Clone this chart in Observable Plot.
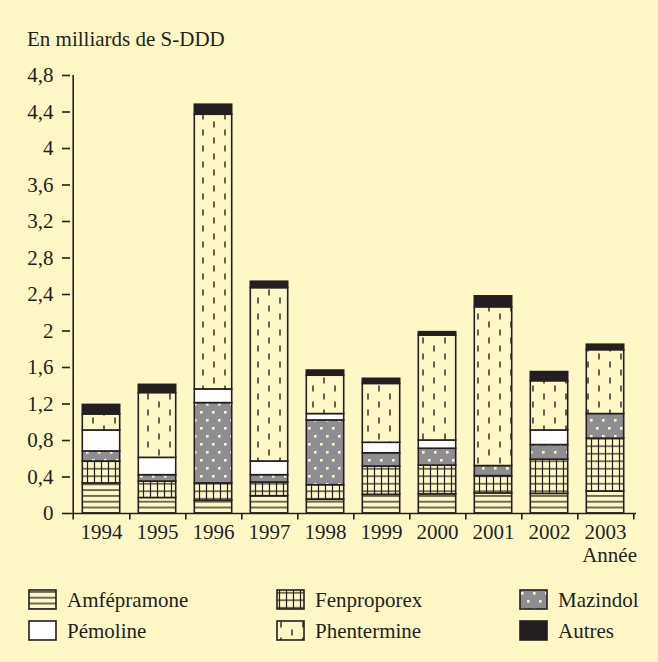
<!DOCTYPE html>
<html><head><meta charset="utf-8">
<script src="https://cdn.jsdelivr.net/npm/d3@7"></script>
<script src="https://cdn.jsdelivr.net/npm/@observablehq/plot@0.6"></script>
<style>
html,body{margin:0;padding:0;background:#fff8c6;}
#wrap{position:relative;width:658px;height:662px;overflow:hidden;font-family:"Liberation Serif","Times New Roman",serif;color:#231f20;background:#fff8c6;}
#title{position:absolute;left:27px;top:29px;font-size:21px;line-height:21px;white-space:nowrap;}
#xlabel{position:absolute;right:21px;top:545px;font-size:21px;line-height:21px;}
#chart{position:absolute;left:0;top:0;}
.leg{position:absolute;font-size:21px;line-height:21px;white-space:nowrap;}
.sw{position:absolute;}
#chart svg g[aria-label="y-axis tick"] path{stroke-width:1.6;}
</style></head><body>
<div id="wrap">
  <div id="chart"></div>
  <div id="title">En milliards de S-DDD</div>
  <div id="xlabel">Année</div>
  <div id="legend"></div>
</div>
<script>
const years = ["1994","1995","1996","1997","1998","1999","2000","2001","2002","2003"];
const seriesNames = ["Amfépramone","Fenproporex","Mazindol","Pémoline","Phentermine","Autres"];
const amfepramone = [0.33,0.17,0.14,0.19,0.15,0.205,0.21,0.22,0.215,0.24];
const fenproporex = [0.24,0.18,0.19,0.15,0.16,0.31,0.315,0.19,0.375,0.58];
const mazindol    = [0.11,0.07,0.88,0.08,0.71,0.145,0.185,0.11,0.16,0.27];
const pemoline    = [0.23,0.19,0.15,0.15,0.07,0.115,0.09,0,0.16,0];
const phentermine = [0.175,0.71,3.01,1.90,0.42,0.645,1.15,1.74,0.54,0.70];
const autres      = [0.105,0.09,0.11,0.07,0.057,0.056,0.037,0.12,0.10,0.06];
const yTicks = [0,0.4,0.8,1.2,1.6,2,2.4,2.8,3.2,3.6,4,4.4,4.8];

const seriesValues = [amfepramone, fenproporex, mazindol, pemoline, phentermine, autres];
const patternIds = ["p-amf","p-fen","p-maz","p-pem","p-phe","p-aut"];
const data = [];
years.forEach((yr, i) => {
  seriesNames.forEach((s, j) => {
    data.push({year: yr, serie: s, value: seriesValues[j][i]});
  });
});

const W = 658, H = 570;
const mL = 70, mR = 22, mT = 75, mB = 57;
const step = (W - mL - mR) / years.length;
const ink = "#231f20";

const plot = Plot.plot({
  width: W, height: H,
  marginLeft: mL, marginRight: mR, marginTop: mT, marginBottom: mB,
  style: {background: "transparent", fontFamily: "'Liberation Serif','Times New Roman',serif", fontSize: "21px", color: ink, overflow: "visible"},
  x: {domain: years, padding: 0, tickSize: 0, tickPadding: 11, label: null},
  y: {domain: [0, 4.8], ticks: yTicks, tickFormat: d => String(d).replace(".", ","), tickSize: 8, tickPadding: 9, label: null},
  color: {domain: seriesNames, range: patternIds.map(id => `url(#${id})`)},
  marks: [
    Plot.barY(data.filter(d => d.value > 0), {x: "year", y: "value", fill: "serie", stroke: ink, strokeWidth: 1.6, insetLeft: 9.3, insetRight: 9.3}),
    Plot.ruleY([0], {stroke: ink, strokeWidth: 1.6}),
    Plot.ruleX(years.slice(0, 1), {x: d => d, dx: -step / 2, y1: 0, y2: 4.8, stroke: ink, strokeWidth: 1.6}),
    Plot.ruleX(years.slice(0, 1), {x: d => d, dx: -step / 2, y1: 0, y2: -0.07, stroke: ink, strokeWidth: 1.6}),
    Plot.ruleX(years, {x: d => d, dx: step / 2, y1: 0, y2: -0.07, stroke: ink, strokeWidth: 1.6})
  ]
});

// pattern definitions
const defs = d3.select(plot).insert("defs", ":first-child");
const bg = "#fff8c6";
// Amfépramone: horizontal lines
let p = defs.append("pattern").attr("id", "p-amf").attr("patternUnits", "userSpaceOnUse").attr("width", 8).attr("height", 5.8);
p.append("rect").attr("width", 8).attr("height", 5.8).attr("fill", bg);
p.append("line").attr("x1", 0).attr("x2", 8).attr("y1", 2.9).attr("y2", 2.9).attr("stroke", ink).attr("stroke-width", 1.3);
// Fenproporex: grid
p = defs.append("pattern").attr("id", "p-fen").attr("patternUnits", "userSpaceOnUse").attr("width", 7).attr("height", 7.5);
p.append("rect").attr("width", 7).attr("height", 7.5).attr("fill", bg);
p.append("line").attr("x1", 3.5).attr("x2", 3.5).attr("y1", 0).attr("y2", 7.5).attr("stroke", ink).attr("stroke-width", 1.2);
p.append("line").attr("x1", 0).attr("x2", 7).attr("y1", 3.75).attr("y2", 3.75).attr("stroke", ink).attr("stroke-width", 1.2);
// Mazindol: grey with light squares
p = defs.append("pattern").attr("id", "p-maz").attr("patternUnits", "userSpaceOnUse").attr("width", 12).attr("height", 16);
p.append("rect").attr("width", 12).attr("height", 16).attr("fill", "#8e8e92");
p.append("rect").attr("x", 2).attr("y", 3).attr("width", 2.6).attr("height", 2.6).attr("fill", "#fff6c0");
p.append("rect").attr("x", 8).attr("y", 11).attr("width", 2.6).attr("height", 2.6).attr("fill", "#fff6c0");
// Pémoline: white
p = defs.append("pattern").attr("id", "p-pem").attr("patternUnits", "userSpaceOnUse").attr("width", 10).attr("height", 10);
p.append("rect").attr("width", 10).attr("height", 10).attr("fill", "#ffffff");
// Phentermine: staggered vertical dashes
p = defs.append("pattern").attr("id", "p-phe").attr("patternUnits", "userSpaceOnUse").attr("width", 22).attr("height", 16);
p.append("rect").attr("width", 22).attr("height", 16).attr("fill", bg);
p.append("line").attr("x1", 5).attr("x2", 5).attr("y1", 1.5).attr("y2", 7.5).attr("stroke", ink).attr("stroke-width", 1.4);
p.append("line").attr("x1", 16).attr("x2", 16).attr("y1", 9.5).attr("y2", 15.5).attr("stroke", ink).attr("stroke-width", 1.4);
// Autres: black
p = defs.append("pattern").attr("id", "p-aut").attr("patternUnits", "userSpaceOnUse").attr("width", 10).attr("height", 10);
p.append("rect").attr("width", 10).attr("height", 10).attr("fill", ink);

document.getElementById("chart").appendChild(plot);

// legend
const legend = d3.select("#legend");
const legCols = [29, 277, 520];
const legRows = [590, 621];
seriesNames.forEach((s, j) => {
  const col = j % 3, row = Math.floor(j / 3);
  const sx = legCols[col], sy = legRows[row];
  const sw = legend.append("svg").attr("class", "sw").attr("width", 29).attr("height", 21)
    .style("left", (sx - 1) + "px").style("top", (sy - 1) + "px");
  sw.append("rect").attr("x", 1).attr("y", 1).attr("width", 27).attr("height", 19)
    .attr("fill", `url(#${patternIds[j]})`).attr("stroke", ink).attr("stroke-width", 1.6);
  legend.append("div").attr("class", "leg").style("left", (sx + 38) + "px").style("top", sy + "px").text(s);
});
</script>
</body></html>
